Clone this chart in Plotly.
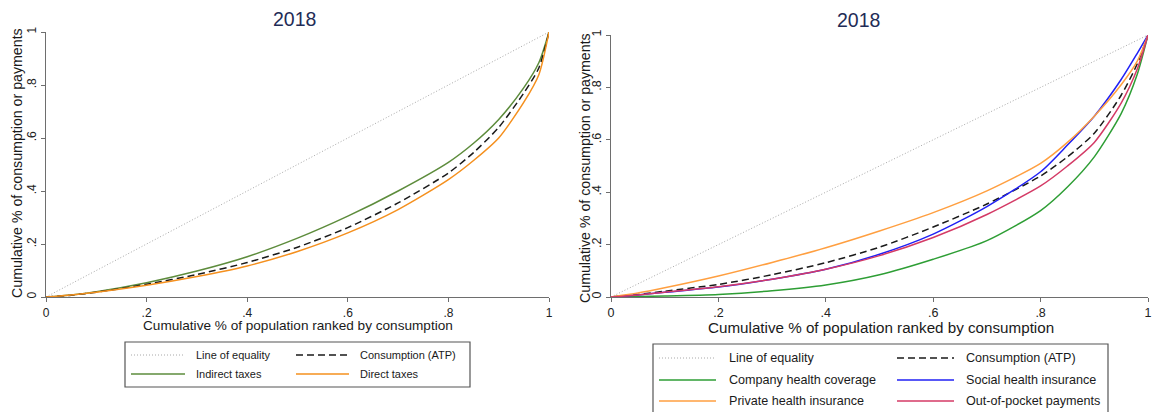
import plotly.graph_objects as go

W, H = 1162, 412

# ---------------- data ----------------
pop_share = [0, .05, .1, .2, .3, .4, .5, .6, .7, .8, .85, .9, .95, .98, 1]
equality = [0, 1]

# left panel (taxes)
consumption_left = [0, .007, .018, .048, .085, .130, .188, .262, .355, .468, .545, .640, .770, .865, 1]
indirect_taxes = [0, .008, .020, .054, .098, .152, .222, .305, .400, .508, .580, .670, .790, .885, 1]
direct_taxes = [0, .008, .018, .044, .077, .117, .172, .242, .330, .443, .515, .600, .735, .840, 1]

# right panel (health payments)
consumption_right = [0, .010, .022, .048, .085, .131, .190, .267, .355, .462, .535, .625, .770, .890, 1]
company_health = [0, .002, .004, .010, .024, .046, .085, .144, .215, .330, .420, .535, .700, .850, 1]
social_health = [0, .008, .018, .038, .068, .106, .163, .240, .345, .478, .580, .690, .830, .930, 1]
private_health = [0, .015, .035, .080, .132, .188, .252, .322, .405, .510, .590, .690, .810, .900, 1]
out_of_pocket = [0, .008, .018, .039, .068, .106, .158, .227, .315, .424, .500, .590, .740, .870, 1]

tick_vals = [0, .2, .4, .6, .8, 1]
tick_text = ["0", ".2", ".4", ".6", ".8", "1"]
titles = ["2018", "2018"]
x_title = "Cumulative % of population ranked by consumption"
y_title = "Cumulative % of consumption or payments"

# ---------------- styles ----------------
C_EQ = "#a8a8a8"
C_CONS = "#1a1a1a"
L_GREEN = "#5d8c3c"
L_ORANGE = "#f5901e"
R_GREEN = "#2e9e35"
R_BLUE = "#2020f5"
R_ORANGE = "#ff9f40"
R_RED = "#d43a66"
FONT = "Liberation Sans, Arial, sans-serif"


def px(x):
    return x / W


def py(y):
    return 1 - y / H


fig = go.Figure()


def add(x, y, color, dash, xa, ya, width=1.5, shape="spline"):
    fig.add_trace(go.Scatter(
        x=x, y=y, mode="lines", xaxis=xa, yaxis=ya, showlegend=False,
        line=dict(color=color, width=width, dash=dash, shape=shape, smoothing=0.7),
        hoverinfo="skip"))


# left
add(equality, equality, C_EQ, "1px,2px", "x", "y", width=1, shape="linear")
add(pop_share, indirect_taxes, L_GREEN, "solid", "x", "y")
add(pop_share, consumption_left, C_CONS, "7px,4px", "x", "y")
add(pop_share, direct_taxes, L_ORANGE, "solid", "x", "y")
# right
add(equality, equality, C_EQ, "1px,2px", "x2", "y2", width=1, shape="linear")
add(pop_share, consumption_right, C_CONS, "7px,4px", "x2", "y2")
add(pop_share, company_health, R_GREEN, "solid", "x2", "y2")
add(pop_share, social_health, R_BLUE, "solid", "x2", "y2")
add(pop_share, private_health, R_ORANGE, "solid", "x2", "y2")
add(pop_share, out_of_pocket, R_RED, "solid", "x2", "y2")

axis_common = dict(range=[0, 1], showgrid=False, zeroline=False, showline=True,
                   linecolor="#6e6e6e", linewidth=1.2, ticks="outside", ticklen=4,
                   tickcolor="#6e6e6e", tickvals=tick_vals, ticktext=tick_text,
                   fixedrange=True, automargin=False)

L_dom_x = [px(46), px(549)]
L_dom_y = [py(297), py(32)]
R_dom_x = [px(611), px(1148)]
R_dom_y = [py(297), py(35)]

fig.update_layout(
    template="none",
    width=W, height=H, margin=dict(l=0, r=0, t=0, b=0, pad=0, autoexpand=False),
    paper_bgcolor="white", plot_bgcolor="white",
    font=dict(family=FONT, color="#222222"),
    xaxis=dict(domain=L_dom_x, anchor="y", tickfont=dict(size=12), **axis_common),
    yaxis=dict(domain=L_dom_y, anchor="x", tickangle=-90, tickfont=dict(size=12), **axis_common),
    xaxis2=dict(domain=R_dom_x, anchor="y2", tickfont=dict(size=12.5), **axis_common),
    yaxis2=dict(domain=R_dom_y, anchor="x2", tickangle=-90, tickfont=dict(size=12.5), **axis_common),
)

ann = []
shapes = []


def label(text, x, y, size, color="#1a1a1a", angle=0, xanchor="center"):
    ann.append(dict(text=text, x=px(x), y=py(y), xref="paper", yref="paper",
                    xanchor=xanchor, yanchor="middle", textangle=angle,
                    showarrow=False, font=dict(size=size, color=color)))


# titles
label(titles[0], 294, 19, 19.5, color="#1f2c57")
label(titles[1], 858, 20, 19.5, color="#1f2c57")
# axis titles
label(x_title, 297.5, 325, 13.6)
label(x_title, 880.5, 327, 15.2)
label(y_title, 17, 163, 14.2, angle=-90)
label(y_title, 585, 168, 14.2, angle=-90)


def legend_box(x0, y0, x1, y1):
    shapes.append(dict(type="rect", xref="paper", yref="paper",
                       x0=px(x0), x1=px(x1), y0=py(y1), y1=py(y0),
                       line=dict(color="#555555", width=1.2), fillcolor="rgba(0,0,0,0)"))


def legend_item(sx0, sx1, y, color, dash, width, text, tx, size):
    shapes.append(dict(type="line", xref="paper", yref="paper",
                       x0=px(sx0), x1=px(sx1), y0=py(y), y1=py(y),
                       line=dict(color=color, dash=dash, width=width)))
    label(text, tx, y, size, xanchor="left")


# left legend
legend_box(125, 342, 470, 387)
legend_item(131, 185, 355, C_EQ, "1px,2px", 1, "Line of equality", 194, 11)
legend_item(296, 349, 355, C_CONS, "7px,4px", 1.5, "Consumption (ATP)", 358, 11)
legend_item(131, 185, 374, L_GREEN, "solid", 1.5, "Indirect taxes", 194, 11)
legend_item(296, 349, 374, L_ORANGE, "solid", 1.5, "Direct taxes", 358, 11)

# right legend
legend_box(653, 344, 1108, 416)
legend_item(659, 716, 358, C_EQ, "1px,2px", 1, "Line of equality", 727, 12.6)
legend_item(897, 954, 358, C_CONS, "7px,4px", 1.5, "Consumption (ATP)", 964, 12.6)
legend_item(659, 716, 380, R_GREEN, "solid", 1.5, "Company health coverage", 727, 12.6)
legend_item(897, 954, 380, R_BLUE, "solid", 1.5, "Social health insurance", 964, 12.6)
legend_item(659, 716, 401, R_ORANGE, "solid", 1.5, "Private health insurance", 727, 12.6)
legend_item(897, 954, 401, R_RED, "solid", 1.5, "Out-of-pocket payments", 964, 12.6)

fig.update_layout(annotations=ann, shapes=shapes)
fig.write_html("out.html", config={"displayModeBar": False},
               post_script="document.body.style.margin='0px';document.body.style.overflow='hidden';")
